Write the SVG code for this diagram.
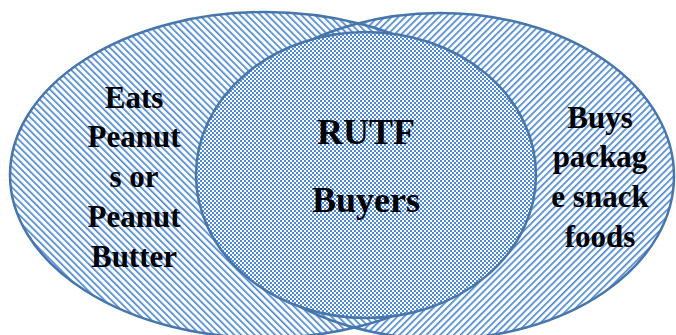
<svg xmlns="http://www.w3.org/2000/svg" width="676" height="335" viewBox="0 0 676 335">
  <style>
    .outline { fill: none; stroke: #4676ab; stroke-width: 2.5; }
    .lbl { font-family: "Liberation Serif", "Times New Roman", serif; font-weight: bold; fill: #000; text-anchor: middle; }
    .side { font-size: 31px; }
    .mid { font-size: 36px; }
  </style>
  <defs>
    <pattern id="stripeDown" width="4.8" height="4.8" patternUnits="userSpaceOnUse" patternTransform="rotate(-45)">
      <rect width="4.8" height="4.8" fill="#ffffff"/>
      <rect width="1.7" height="4.8" fill="#4f8bd4"/>
    </pattern>
    <pattern id="stripeUp" width="4.8" height="4.8" patternUnits="userSpaceOnUse" patternTransform="rotate(45)">
      <rect width="4.8" height="4.8" fill="#ffffff"/>
      <rect width="1.7" height="4.8" fill="#4f8bd4"/>
    </pattern>
    <pattern id="checker" width="4" height="4" patternUnits="userSpaceOnUse">
      <rect width="4" height="4" fill="#ffffff"/>
      <rect x="0" y="0" width="2" height="2" fill="#4f8bd4"/>
      <rect x="2" y="2" width="2" height="2" fill="#4f8bd4"/>
    </pattern>
  </defs>

  <g id="set-snack-foods">
    <ellipse cx="440" cy="176" rx="234" ry="163" fill="url(#stripeUp)"/>
    <text class="lbl side" x="600" y="128">Buys</text>
    <text class="lbl side" x="600" y="167">packag</text>
    <text class="lbl side" x="600" y="207">e snack</text>
    <text class="lbl side" x="600" y="247">foods</text>
  </g>

  <g id="set-peanuts">
    <ellipse cx="265" cy="175" rx="255" ry="163" fill="url(#stripeDown)"/>
    <ellipse class="outline" cx="265" cy="175" rx="255" ry="163"/>
    <text class="lbl side" x="134" y="108">Eats</text>
    <text class="lbl side" x="134" y="147">Peanut</text>
    <text class="lbl side" x="134" y="187">s or</text>
    <text class="lbl side" x="134" y="227">Peanut</text>
    <text class="lbl side" x="134" y="267">Butter</text>
  </g>

  <g id="set-snack-foods-outline">
    <ellipse class="outline" cx="440" cy="176" rx="234" ry="163"/>
  </g>

  <g id="set-rutf-buyers">
    <ellipse cx="366" cy="175" rx="170" ry="143" fill="url(#checker)"/>
    <ellipse class="outline" cx="366" cy="175" rx="170" ry="143"/>
    <text class="lbl mid" x="366" y="144">RUTF</text>
    <text class="lbl mid" x="366" y="212">Buyers</text>
  </g>
</svg>
